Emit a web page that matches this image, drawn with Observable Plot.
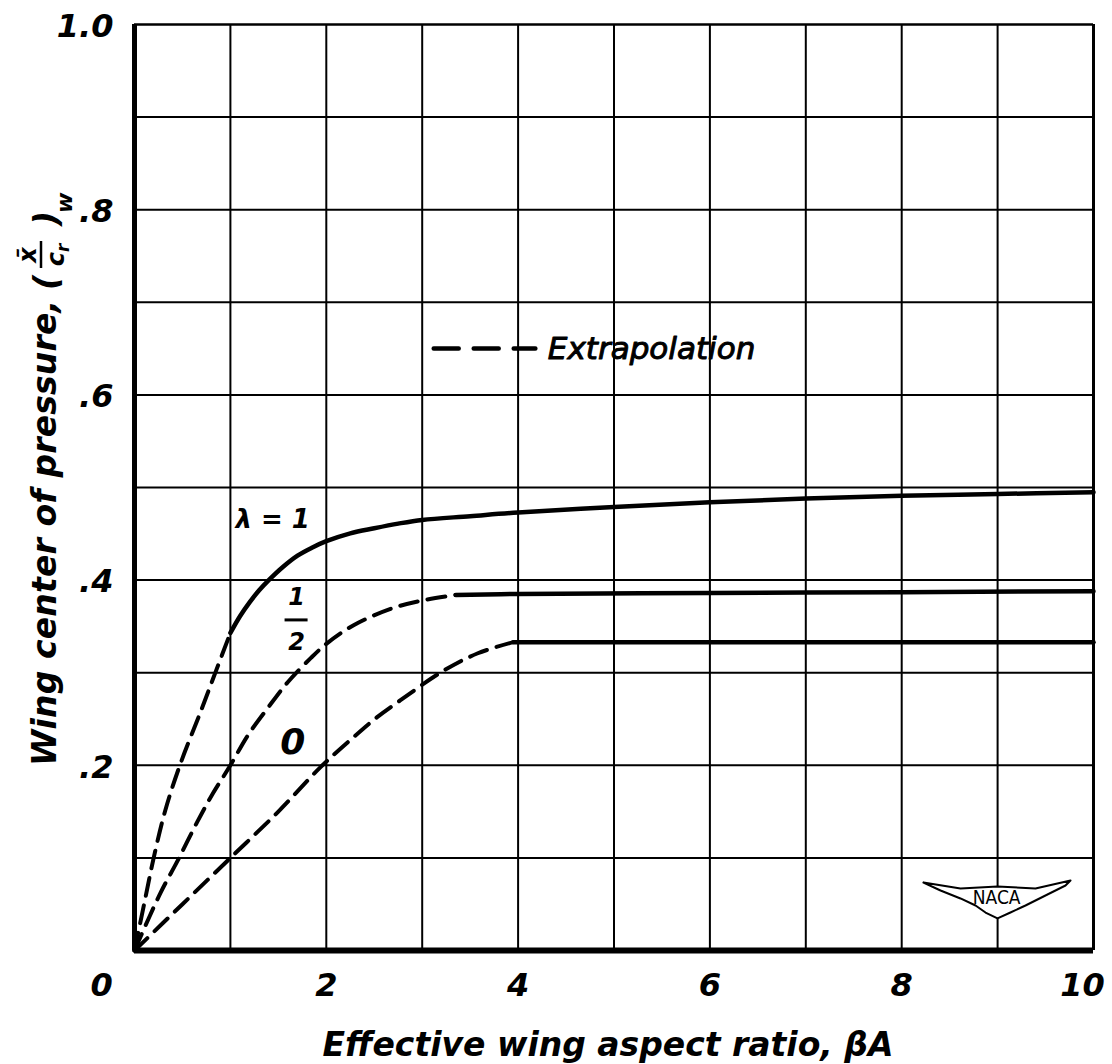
<!DOCTYPE html>
<html>
<head>
<meta charset="utf-8">
<script src="https://cdn.jsdelivr.net/npm/d3@7"></script>
<script src="https://cdn.jsdelivr.net/npm/@observablehq/plot@0.6"></script>
<style>
  html, body { margin: 0; padding: 0; background: white; }
</style>
</head>
<body>
<div id="chart"></div>
<script>
const FONT = "DejaVu Sans";

// Axis ticks
const xTickVals = [0, 2, 4, 6, 8, 10];
const yTickVals = [0.2, 0.4, 0.6, 0.8, 1.0];
const yTickLabels = [".2", ".4", ".6", ".8", "1.0"];
const xGridLines = [1, 2, 3, 4, 5, 6, 7, 8, 9];
const yGridLines = [0.1, 0.2, 0.3, 0.4, 0.5, 0.6, 0.7, 0.8, 0.9];

// lambda = 1
const lam1DashX = [0, 0.1, 0.2, 0.32, 0.48, 0.69, 0.85, 1.0];
const lam1DashY = [0, 0.05, 0.1, 0.151, 0.202, 0.258, 0.302, 0.343];
const lam1SolidX = [1.0, 1.1, 1.2, 1.3, 1.4, 1.55, 1.7, 1.85, 2.0, 2.25, 2.5, 2.75, 3.0, 3.5, 4, 5, 6, 7, 8, 9, 10];
const lam1SolidY = [0.343, 0.361, 0.376, 0.389, 0.400, 0.4145, 0.4265, 0.435, 0.442, 0.4505, 0.456, 0.461, 0.465, 0.469, 0.473, 0.479, 0.484, 0.488, 0.491, 0.493, 0.495];

// lambda = 1/2
const lamHalfDashX = [0, 0.27, 0.45, 0.66, 0.82, 1.0, 1.18, 1.39, 1.6, 1.84, 2.01, 2.28, 2.67, 3.0, 3.35];
const lamHalfDashY = [0, 0.062, 0.097, 0.14, 0.17, 0.2, 0.232, 0.262, 0.29, 0.316, 0.332, 0.351, 0.369, 0.378, 0.384];
const lamHalfSolidX = [3.35, 4, 6, 8, 10];
const lamHalfSolidY = [0.384, 0.385, 0.386, 0.387, 0.388];

// lambda = 0
const lam0DashX = [0, 0.5, 1.0, 1.5, 1.94, 2.28, 2.53, 2.77, 3.22, 3.58, 3.95];
const lam0DashY = [0, 0.05, 0.1, 0.15, 0.198, 0.23, 0.252, 0.27, 0.302, 0.321, 0.333];
const lam0SolidX = [3.95, 6, 8, 10];
const lam0SolidY = [0.333, 0.333, 0.333, 0.333];

// Legend sample
const legendDashX = [3.12, 4.18];
const legendY = 0.65;
const legendTextX = 4.31;

// Curve labels
const curveLabels = [
  {text: "λ = 1", x: 1.44, y: 0.465, size: 26},
  {text: "0", x: 1.65, y: 0.225, size: 36}
];
const halfLabel = {x: 1.69, x1: 1.57, x2: 1.81, yNum: 0.381, yBar: 0.357, yDen: 0.333};

// NACA logo
const nacaWingX = [8.227, 8.405, 8.613, 8.77, 8.874, 8.999, 9.134, 9.291, 9.499, 9.708, 9.76, 9.395, 8.999, 8.613, 8.227];
const nacaWingY = [0.0734, 0.0648, 0.0562, 0.0486, 0.041, 0.0346, 0.041, 0.0486, 0.0594, 0.0702, 0.0756, 0.067, 0.0691, 0.067, 0.0734];

const pts = (xs, ys) => xs.map((x, i) => ({x, y: ys[i]}));

const boldItalic = {fontFamily: FONT, fontWeight: "bold", fontStyle: "italic", fill: "black"};
const DASH = "18,10";
const CURVE = "catmull-rom";

const svg = Plot.plot({
  width: 1112,
  height: 1064,
  marginLeft: 134,
  marginRight: 19,
  marginTop: 24,
  marginBottom: 114,
  x: {domain: [0, 10], axis: null},
  y: {domain: [0, 1], axis: null},
  style: {fontFamily: FONT, background: "white", color: "black"},
  marks: [
    Plot.ruleX(xGridLines, {stroke: "black", strokeWidth: 2}),
    Plot.ruleY(yGridLines, {stroke: "black", strokeWidth: 2}),
    Plot.ruleX([10], {stroke: "black", strokeWidth: 3}),
    Plot.ruleY([1], {stroke: "black", strokeWidth: 2.5}),
    Plot.ruleX([0], {stroke: "black", strokeWidth: 5}),
    Plot.ruleY([0], {stroke: "black", strokeWidth: 6}),

    // curves
    Plot.line(pts(lam1DashX, lam1DashY), {x: "x", y: "y", stroke: "black", strokeWidth: 4, strokeDasharray: DASH, curve: CURVE}),
    Plot.line(pts(lam1SolidX, lam1SolidY), {x: "x", y: "y", stroke: "black", strokeWidth: 4.5, curve: CURVE}),
    Plot.line(pts(lamHalfDashX, lamHalfDashY), {x: "x", y: "y", stroke: "black", strokeWidth: 4, strokeDasharray: DASH, curve: CURVE}),
    Plot.line(pts(lamHalfSolidX, lamHalfSolidY), {x: "x", y: "y", stroke: "black", strokeWidth: 4.5, curve: CURVE}),
    Plot.line(pts(lam0DashX, lam0DashY), {x: "x", y: "y", stroke: "black", strokeWidth: 4, strokeDasharray: DASH, curve: CURVE}),
    Plot.line(pts(lam0SolidX, lam0SolidY), {x: "x", y: "y", stroke: "black", strokeWidth: 4.5, curve: CURVE}),

    // legend
    Plot.line(legendDashX.map(x => ({x, y: legendY})), {x: "x", y: "y", stroke: "black", strokeWidth: 4.5, strokeDasharray: "25,15"}),
    Plot.text(["Extrapolation"], {x: legendTextX, y: legendY, text: d => d, textAnchor: "start", lineAnchor: "middle", fontSize: 31, fontFamily: FONT, fontStyle: "italic", fill: "black", stroke: "black", strokeWidth: 1}),

    // curve labels
    Plot.text(curveLabels, {x: "x", y: "y", text: "text", fontSize: d => d.size, lineAnchor: "middle", ...boldItalic}),
    Plot.text(["1"], {x: halfLabel.x, y: halfLabel.yNum, text: d => d, fontSize: 24, lineAnchor: "middle", ...boldItalic}),
    Plot.text(["2"], {x: halfLabel.x, y: halfLabel.yDen, text: d => d, fontSize: 24, lineAnchor: "middle", ...boldItalic}),
    Plot.ruleY([halfLabel.yBar], {x1: halfLabel.x1, x2: halfLabel.x2, stroke: "black", strokeWidth: 3}),

    // NACA logo
    Plot.line(pts(nacaWingX, nacaWingY), {x: "x", y: "y", stroke: "black", strokeWidth: 2, fill: "white", curve: "linear"}),
    Plot.text(["NACA"], {x: 8.99, y: 0.057, text: d => d, fontSize: 19, fontFamily: "DejaVu Sans Condensed", fill: "black", lineAnchor: "middle"}),

    // x tick labels
    Plot.text([0], {x: d => d, frameAnchor: "bottom", dy: 35, dx: -33, lineAnchor: "middle", text: d => String(d), fontSize: 32, ...boldItalic}),
    Plot.text(xTickVals.slice(1, 5), {x: d => d, frameAnchor: "bottom", dy: 35, lineAnchor: "middle", text: d => String(d), fontSize: 32, ...boldItalic}),
    Plot.text([10], {x: d => d, frameAnchor: "bottom", dy: 35, dx: -11, lineAnchor: "middle", text: d => String(d), fontSize: 32, ...boldItalic}),

    // y tick labels
    Plot.text(yTickVals, {y: d => d, frameAnchor: "left", textAnchor: "end", dx: -21, dy: 2, lineAnchor: "middle", text: (d, i) => yTickLabels[i], fontSize: 32, ...boldItalic}),

    // x axis title
    Plot.text(["Effective wing aspect ratio, βA"], {frameAnchor: "bottom", dx: -6, dy: 105, lineAnchor: "bottom", text: d => d, fontSize: 33, ...boldItalic})
  ]
});

document.getElementById("chart").append(svg);

// y axis title with stacked fraction (x̄ / c_r)_w
const g = d3.select(svg).append("g")
  .attr("transform", "translate(56,766) rotate(-90)")
  .attr("font-family", FONT)
  .attr("font-weight", "bold")
  .attr("font-style", "italic")
  .attr("text-anchor", "start")
  .attr("fill", "black");

g.append("text").attr("x", 0).attr("y", 0).attr("font-size", 33)
  .attr("textLength", 466).attr("lengthAdjust", "spacing")
  .text("Wing center of pressure,");
g.append("text").attr("x", 476).attr("y", 2).attr("font-size", 33).text("(");
g.append("text").attr("x", 511).attr("y", -20).attr("font-size", 24).attr("text-anchor", "middle").text("x\u0304");
g.append("line").attr("x1", 498).attr("x2", 525).attr("y1", -15).attr("y2", -15).attr("stroke", "black").attr("stroke-width", 2.5);
const den = g.append("text").attr("x", 511).attr("y", 8).attr("font-size", 24).attr("text-anchor", "middle");
den.append("tspan").text("c");
den.append("tspan").attr("dy", 5).attr("font-size", 17).text("r");
g.append("text").attr("x", 540).attr("y", 2).attr("font-size", 33).text(")");
g.append("text").attr("x", 553).attr("y", 16).attr("font-size", 22).text("w");
</script>
</body>
</html>
